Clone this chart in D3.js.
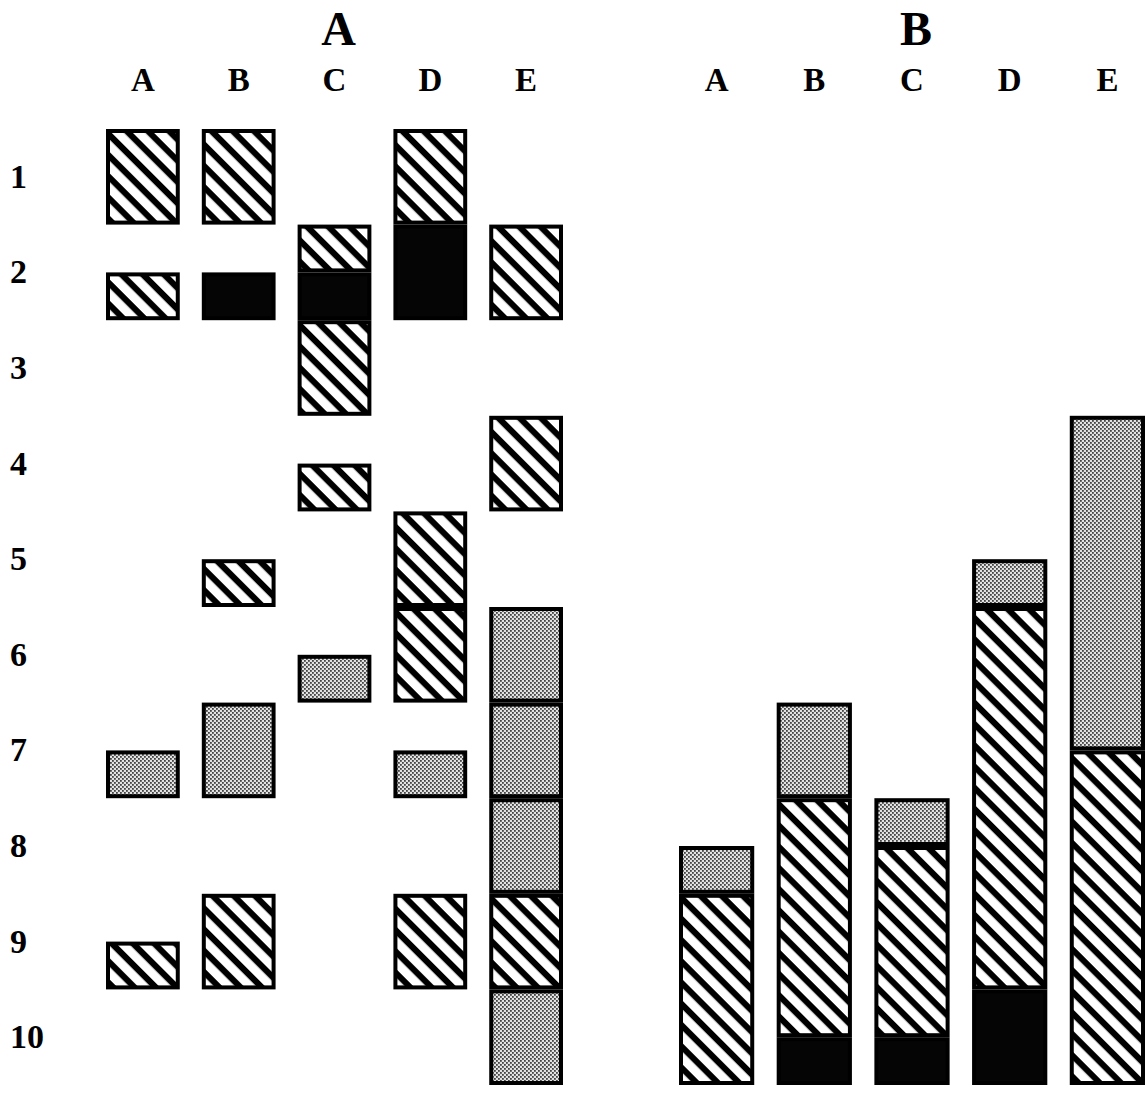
<!DOCTYPE html>
<html>
<head>
<meta charset="utf-8">
<script src="https://cdn.jsdelivr.net/npm/d3@7"></script>
<style>
  html, body { margin: 0; padding: 0; background: #fff; }
  svg { display: block; }
  text { font-family: "Liberation Serif", "Times New Roman", serif; font-weight: bold; fill: #000; }
</style>
</head>
<body>
<svg id="chart" width="1146" height="1093"></svg>
<script>
// ---- data ----
const columns = ["A", "B", "C", "D", "E"];
const rowLabels = ["1", "2", "3", "4", "5", "6", "7", "8", "9", "10"];
const panelTitles = ["A", "B"];
const fillTypes = ["hatch", "stipple", "black"];

// Panel A segments: [column, fromRow, toRow, type]
const panelASegments = [
  ["A", 0.5, 1.5, "hatch"], ["A", 2.0, 2.5, "hatch"], ["A", 7.0, 7.5, "stipple"], ["A", 9.0, 9.5, "hatch"],
  ["B", 0.5, 1.5, "hatch"], ["B", 2.0, 2.5, "black"], ["B", 5.0, 5.5, "hatch"], ["B", 6.5, 7.5, "stipple"], ["B", 8.5, 9.5, "hatch"],
  ["C", 1.5, 2.0, "hatch"], ["C", 2.0, 2.5, "black"], ["C", 2.5, 3.5, "hatch"], ["C", 4.0, 4.5, "hatch"], ["C", 6.0, 6.5, "stipple"],
  ["D", 0.5, 1.5, "hatch"], ["D", 1.5, 2.5, "black"], ["D", 4.5, 5.5, "hatch"], ["D", 5.5, 6.5, "hatch"], ["D", 7.0, 7.5, "stipple"], ["D", 8.5, 9.5, "hatch"],
  ["E", 1.5, 2.5, "hatch"], ["E", 3.5, 4.5, "hatch"], ["E", 5.5, 6.5, "stipple"], ["E", 6.5, 7.5, "stipple"], ["E", 7.5, 8.5, "stipple"], ["E", 8.5, 9.5, "hatch"], ["E", 9.5, 10.5, "stipple"]
];

// Panel B stacked totals (in row units), stacked from the bottom: black, hatch, stipple
const panelBBlack   = [0,   0.5, 0.5, 1.0, 0];
const panelBHatch   = [2.0, 2.5, 2.0, 4.0, 3.5];
const panelBStipple = [0.5, 1.0, 0.5, 0.5, 3.5];

// ---- drawing ----
const svg = d3.select("#chart");
const defs = svg.append("defs");

const hatch = defs.append("pattern")
  .attr("id", "hatch").attr("patternUnits", "userSpaceOnUse")
  .attr("width", 15).attr("height", 15)
  .attr("patternTransform", "rotate(45)");
hatch.append("rect").attr("width", 15).attr("height", 15).attr("fill", "#fff");
hatch.append("rect").attr("x", 0).attr("y", 0).attr("width", 15).attr("height", 6.2).attr("fill", "#000");

const stip = defs.append("pattern")
  .attr("id", "stipple").attr("patternUnits", "userSpaceOnUse")
  .attr("width", 4).attr("height", 4);
stip.append("rect").attr("width", 4).attr("height", 4).attr("fill", "#e2e2e2");
stip.append("rect").attr("x", 0).attr("y", 0).attr("width", 1.8).attr("height", 1.8).attr("fill", "#444");
stip.append("rect").attr("x", 2).attr("y", 2).attr("width", 1.8).attr("height", 1.8).attr("fill", "#444");

const fillFor = t => t === "hatch" ? "url(#hatch)" : t === "stipple" ? "url(#stipple)" : "#050505";

const y = d3.scaleLinear().domain([0.5, 10.5]).range([129, 1085]);
const xA = d3.scaleBand().domain(columns).range([106, 563]).paddingInner(0.23).paddingOuter(0);
const xB = d3.scaleBand().domain(columns).range([679, 1145]).paddingInner(0.23).paddingOuter(0);

const sw = 4;

// Panel A
svg.append("g").selectAll("rect").data(panelASegments).join("rect")
  .attr("x", d => xA(d[0]) + sw / 2)
  .attr("width", xA.bandwidth() - sw)
  .attr("y", d => y(d[1]) + sw / 2)
  .attr("height", d => y(d[2]) - y(d[1]) - sw)
  .attr("fill", d => fillFor(d[3]))
  .attr("stroke", "#000").attr("stroke-width", sw);

// Panel B stacked
const stackRows = columns.map((c, i) => ({ col: c, black: panelBBlack[i], hatch: panelBHatch[i], stipple: panelBStipple[i] }));
const stack = d3.stack().keys(["black", "hatch", "stipple"])(stackRows);
const yB = v => y(10.5 - v);
stack.forEach(layer => {
  svg.append("g").selectAll("rect").data(layer.filter(d => d[1] > d[0])).join("rect")
    .attr("x", d => xB(d.data.col) + sw / 2)
    .attr("width", xB.bandwidth() - sw)
    .attr("y", d => yB(d[1]) + sw / 2)
    .attr("height", d => yB(d[0]) - yB(d[1]) - sw)
    .attr("fill", fillFor(layer.key))
    .attr("stroke", "#000").attr("stroke-width", sw);
});

// Column labels
[xA, xB].forEach((xs, pi) => {
  svg.append("g").selectAll("text").data(columns).join("text")
    .attr("x", d => xs(d) + xs.bandwidth() / 2)
    .attr("y", 91)
    .attr("text-anchor", "middle")
    .attr("font-size", 33)
    .text(d => d);
  const r = xs.range();
  svg.append("text")
    .attr("x", (r[0] + r[1]) / 2 + 4)
    .attr("y", 45)
    .attr("text-anchor", "middle")
    .attr("font-size", 48)
    .text(panelTitles[pi]);
});

// Row labels
svg.append("g").selectAll("text").data(rowLabels).join("text")
  .attr("x", 10)
  .attr("y", (d, i) => y(i + 1) + 11)
  .attr("font-size", 34)
  .text(d => d);
</script>
</body>
</html>
